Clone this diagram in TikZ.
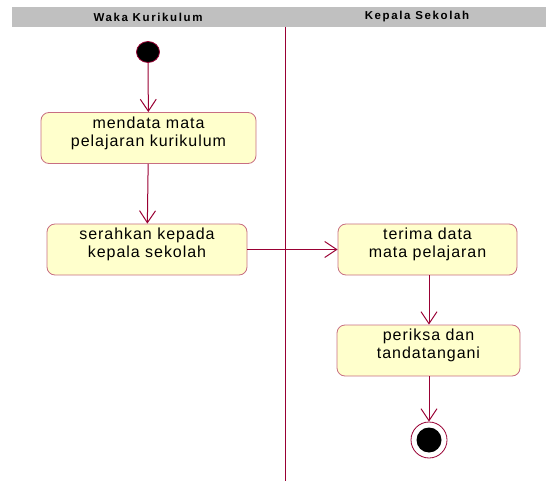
\documentclass[tikz,border=0pt]{standalone}
\usepackage{fontspec}
\setmainfont{Liberation Sans}
\newfontfamily\headfont[LetterSpace=14]{Liberation Sans}
\newfontfamily\actfont[LetterSpace=6]{Liberation Sans}
\usetikzlibrary{arrows.meta,shapes.geometric}
\definecolor{flow}{RGB}{153,0,51}
\definecolor{actborder}{RGB}{200,110,130}
\definecolor{actfill}{RGB}{255,255,204}
\definecolor{lanehead}{RGB}{192,192,192}
\begin{document}
\begin{tikzpicture}[x=1pt,y=-1pt,
  activity/.style={draw=actborder, fill=actfill, rounded corners=8pt, line width=0.8pt,
    minimum height=51pt, inner sep=0pt},
  acttext/.style={font=\actfont\fontsize{16}{18}\selectfont, align=center, text=black},
  flowline/.style={draw=flow, line width=1pt, -{Straight Barb[length=12pt,width=16pt,line width=1pt]}},
  lanetitle/.style={font=\headfont\bfseries\fontsize{11.5}{13}\selectfont, text=black}]
  \useasboundingbox (0,0) rectangle (546,481);

  % swimlane header and divider
  \fill[lanehead] (12,7) rectangle (546,27);
  \node[lanetitle] (laneA) at (148,17) {Waka Kurikulum};
  \node[lanetitle] (laneB) at (417,17) {Kepala Sekolah};
  \coordinate (divtop) at (285,27);
  \coordinate (divbot) at (285,481);
  \draw[flow, line width=1pt] (divtop) -- (divbot);

  % start and end states
  \node[draw=flow, fill=black, ellipse, minimum width=23pt, minimum height=21pt, inner sep=0pt,
        line width=0.8pt] (start) at (148,52) {};
  \node[draw=flow, fill=white, circle, minimum size=36pt, inner sep=0pt, line width=0.8pt] (stop) at (429,440) {};
  \node[fill=black, circle, minimum size=25pt, inner sep=0pt] (stopdot) at (429,440) {};

  % activities
  \node[activity, minimum width=215pt] (a1) at (148.5,138) {};
  \node[acttext] (t1) at ([yshift=5pt]a1.center) {mendata mata\\pelajaran kurikulum};
  \node[activity, minimum width=200pt] (a2) at (147,249.5) {};
  \node[acttext] (t2) at ([yshift=5pt]a2.center) {serahkan kepada\\kepala sekolah};
  \node[activity, minimum width=179pt] (a3) at (427.5,249.5) {};
  \node[acttext] (t3) at ([yshift=5pt]a3.center) {terima data\\mata pelajaran};
  \node[activity, minimum width=183pt] (a4) at (428.5,350.5) {};
  \node[acttext] (t4) at ([yshift=5pt]a4.center) {periksa dan\\tandatangani};

  % control flows
  \draw[flowline] (start) -- (a1);
  \draw[flowline] (a1) -- (a2);
  \draw[flowline] (a2.east) -- (a3.west);
  \draw[flowline] (a3.south -| stop) -- (a4.north -| stop);
  \draw[flowline] (a4.south -| stop) -- (stop);
\end{tikzpicture}
\end{document}
